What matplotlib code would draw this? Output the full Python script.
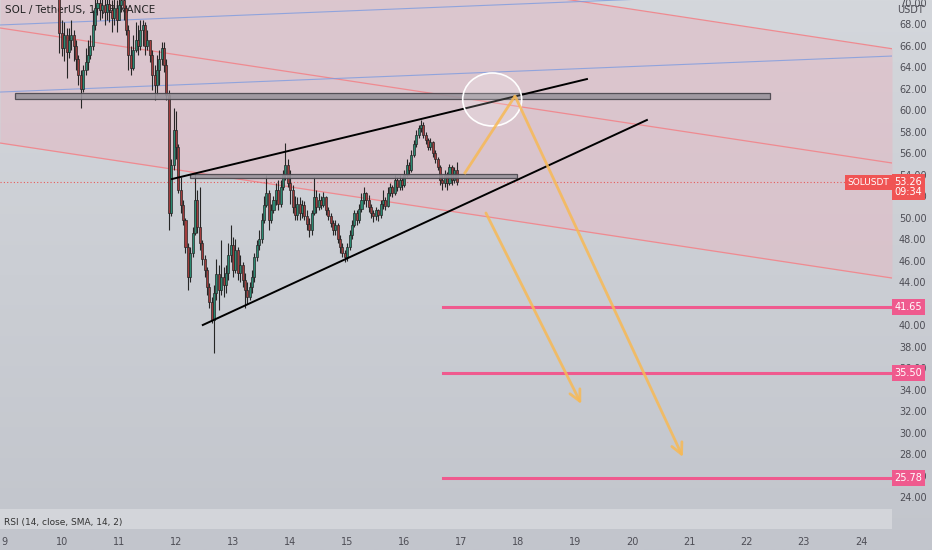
import numpy as np
import matplotlib.pyplot as plt
import matplotlib.transforms as mtransforms
from matplotlib.colors import LinearSegmentedColormap
from matplotlib.patches import Ellipse, Rectangle

# 1h candles, the first one opens on day 9 at 23:00
first_time = 9 + 23 / 24
first_open = 70.5
closes = [
    67.2, 65.8, 67.0, 65.4, 66.5, 67.0, 66.0, 64.7, 63.3, 62.0,
    63.7, 64.5, 65.1, 66.0, 67.9, 69.5, 70.0, 69.3, 69.8, 69.1,
    69.9, 69.3, 68.6, 69.5, 68.4, 69.8, 70.2, 69.5, 67.4, 65.1,
    63.9, 65.6, 66.5, 66.0, 67.4, 67.9, 66.0, 66.5, 65.1, 63.3,
    62.3, 63.7, 64.7, 65.8, 64.2, 61.4, 50.4, 54.9, 58.1, 56.6,
    52.6, 51.2, 49.8, 47.3, 44.5, 46.7, 48.6, 51.6, 49.1, 47.6,
    46.1, 45.1, 43.5, 42.1, 40.5, 43.0, 44.7, 43.3, 44.5, 43.7,
    44.8, 46.5, 47.4, 45.1, 47.0, 44.8, 45.6, 44.2, 43.3, 42.6,
    43.5, 44.5, 46.3, 47.4, 48.0, 49.8, 51.2, 52.3, 49.8, 50.7,
    51.6, 52.6, 51.3, 52.8, 54.0, 54.9, 53.2, 52.6, 51.0, 50.2,
    51.3, 50.4, 51.2, 50.1, 49.4, 48.8, 50.4, 51.9, 51.0, 51.6,
    51.2, 51.9, 50.7, 50.1, 49.5, 48.8, 49.3, 48.0, 47.3, 46.7,
    46.3, 47.3, 48.4, 49.3, 50.4, 49.8, 50.8, 51.6, 52.3, 51.6,
    51.0, 50.4, 50.1, 50.7, 50.2, 51.3, 51.6, 51.1, 52.3, 52.8,
    52.3, 53.5, 52.8, 53.5, 53.0, 54.0, 54.9, 54.4, 55.8, 56.8,
    57.7, 58.3, 58.6, 57.7, 57.2, 56.6, 57.0, 56.0, 55.4, 54.7,
    53.5, 53.2, 54.0, 53.2, 54.7, 53.5, 54.4, 53.26,
]
highs = [
    70.8, 68.4, 68.2, 67.6, 67.6, 68.4, 67.4, 66.5, 65.1, 63.7,
    64.2, 65.8, 66.5, 67.0, 69.3, 70.8, 71.0, 70.8, 71.0, 70.8,
    71.0, 70.7, 70.2, 70.7, 70.2, 70.9, 71.3, 71.1, 69.8, 67.9,
    66.0, 67.0, 68.2, 67.9, 68.4, 68.4, 68.2, 67.4, 66.5, 65.6,
    64.2, 65.1, 65.6, 66.3, 66.3, 64.7, 61.9, 55.4, 60.2, 59.9,
    56.8, 53.8, 51.6, 50.0, 47.6, 47.3, 49.1, 54.1, 52.6, 52.8,
    47.9, 46.5, 45.4, 43.9, 42.6, 43.7, 46.1, 45.6, 47.9, 45.4,
    45.6, 47.6, 49.3, 48.2, 48.0, 47.3, 46.5, 45.9, 44.8, 44.0,
    44.0, 45.1, 46.7, 47.9, 48.8, 50.4, 52.0, 54.0, 52.6, 51.3,
    52.0, 53.2, 53.5, 53.5, 54.4, 56.9, 55.4, 54.4, 53.0, 52.0,
    51.9, 51.9, 51.6, 51.5, 50.7, 50.0, 50.7, 53.8, 52.6, 52.3,
    52.0, 52.4, 52.0, 51.0, 50.4, 49.8, 49.8, 49.5, 48.4, 47.6,
    47.0, 47.6, 48.8, 49.8, 50.7, 50.7, 51.3, 52.3, 52.8, 52.4,
    52.1, 51.3, 50.7, 51.0, 50.8, 51.6, 52.6, 51.9, 52.8, 53.2,
    53.0, 54.0, 53.8, 54.0, 53.8, 54.4, 55.4, 55.2, 56.3, 57.2,
    58.1, 58.6, 59.1, 58.9, 58.0, 57.4, 57.4, 57.1, 56.3, 55.6,
    54.9, 54.0, 54.4, 54.2, 55.0, 54.9, 54.7, 55.2,
]
lows = [
    65.3, 65.0, 64.6, 63.0, 64.8, 65.6, 64.6, 63.7, 62.3, 60.2,
    61.7, 63.3, 63.7, 64.7, 65.6, 67.4, 68.8, 68.4, 68.6, 67.9,
    68.4, 68.2, 67.3, 67.9, 67.3, 68.4, 69.1, 68.4, 67.0, 63.7,
    63.3, 63.7, 65.4, 65.1, 65.6, 66.0, 65.1, 65.6, 64.5, 61.9,
    60.9, 61.4, 62.3, 64.2, 63.5, 60.9, 48.8, 50.1, 54.4, 55.4,
    52.3, 50.4, 49.3, 46.7, 43.3, 44.0, 46.3, 48.4, 48.6, 47.0,
    45.6, 44.5, 42.8, 41.6, 40.2, 37.4, 42.3, 41.4, 42.8, 42.6,
    43.0, 44.2, 45.9, 44.5, 44.8, 44.2, 44.0, 43.5, 41.6, 42.0,
    42.3, 43.0, 44.0, 46.0, 47.0, 47.6, 49.5, 51.0, 48.8, 49.5,
    50.4, 51.2, 50.7, 51.0, 52.6, 53.5, 52.8, 51.3, 50.4, 49.8,
    49.8, 49.8, 50.0, 49.8, 48.8, 48.2, 48.4, 50.2, 50.4, 50.7,
    50.8, 51.0, 50.2, 49.8, 49.1, 48.4, 48.4, 47.6, 46.7, 46.3,
    45.9, 46.0, 47.0, 48.0, 49.1, 49.3, 49.5, 50.5, 51.3, 51.0,
    50.5, 50.0, 49.6, 49.8, 49.7, 50.0, 50.8, 50.7, 51.0, 52.0,
    51.9, 52.1, 52.5, 52.6, 52.6, 52.8, 53.8, 54.0, 54.2, 55.6,
    56.6, 57.4, 58.0, 57.4, 56.8, 56.3, 56.3, 55.6, 55.1, 54.4,
    53.0, 52.6, 52.8, 52.6, 53.0, 53.0, 53.2, 53.0,
]

# drawings (day, price)
channel_days = [8.917, 24.544]
channel_top = [78.30, 65.70]
channel_mid = [67.63, 55.07]
channel_bot = [56.93, 44.37]
blue_line_1 = [67.91, 71.26]
blue_line_2 = [61.67, 65.02]
wedge_upper = ([11.93, 19.20], [53.58, 62.88])
wedge_lower = ([12.47, 20.25], [40.00, 59.07])
zone_upper = (9.18, 22.41, 61.02, 61.58)
zone_lower = (12.25, 17.97, 53.67, 54.05)
circle_center = (17.54, 60.98)
path_up = ([17.05, 17.94], [54.05, 61.30])
arrow_long = ((17.94, 61.30), (20.88, 27.72))
arrow_short = ((17.43, 50.42), (19.10, 32.65))
targets = [41.65, 35.50, 25.78]
target_start = 16.68
last_price = 53.26
price_ticks = list(range(24, 72, 2))
day_ticks = list(range(9, 25))

BG = '#c8cbd2'
GREEN = '#2b8a72'
RED = '#a23c3c'
PINK = '#ef5a8e'
ORANGE = '#f7b955'

fig = plt.figure(figsize=(9.32, 5.5), dpi=100)
fig.patch.set_facecolor(BG)

# soft vertical gradient behind everything
bg_ax = fig.add_axes([0, 0, 1, 1], zorder=-10)
bg_cmap = LinearSegmentedColormap.from_list('bg', ['#c2c5cc', '#d4d7dc'])
bg_ax.imshow(np.linspace(0, 1, 256).reshape(-1, 1), cmap=bg_cmap, aspect='auto',
             origin='lower', extent=[0, 1, 0, 1])
bg_ax.axis('off')

ax = fig.add_axes([0, 42 / 550, 892 / 932, 508 / 550])
ax.set_facecolor('none')
ax.set_xlim(8.917, 24.544)
ax.set_ylim(22.977, 70.233)
for s in ax.spines.values():
    s.set_visible(False)

# channel
ax.fill_between(channel_days, channel_top, channel_bot, color='#e2bcc6', alpha=0.6, lw=0, zorder=0)
for ys in (channel_top, channel_mid, channel_bot):
    ax.plot(channel_days, ys, color='#ef8a90', lw=0.9, zorder=1)
ax.plot(channel_days, blue_line_1, color='#7d9be0', lw=0.8, alpha=0.8, zorder=1)
ax.plot(channel_days, blue_line_2, color='#7d9be0', lw=0.8, alpha=0.8, zorder=1)

ax.text(0.006, 1 - 10.5 / 508, 'SOL / TetherUS, 1h, BINANCE', transform=ax.transAxes,
        fontsize=7.5, color='#222222', va='center', ha='left', zorder=2)

# candles
opens = [first_open] + closes[:-1]
times = [first_time + i / 24 for i in range(len(closes))]
w = 0.85 / 24
for t, o, h, l, c in zip(times, opens, highs, lows, closes):
    col = GREEN if c >= o else RED
    ax.vlines(t, l, h, color='#262626', lw=0.8, zorder=3)
    ax.bar(t, max(abs(c - o), 0.1), width=w, bottom=min(o, c), color=col,
           edgecolor='#262626', linewidth=0.5, zorder=4)

# last price line
ax.axhline(last_price, color='#e85a5a', lw=0.8, ls=(0, (1, 2)), zorder=2)

# zones
for x0, x1, y0, y1 in (zone_upper, zone_lower):
    ax.add_patch(Rectangle((x0, y0), x1 - x0, y1 - y0, facecolor='#9a959d',
                           edgecolor='#48454c', lw=0.9, alpha=0.9, zorder=5))

# wedge
ax.plot(*wedge_upper, color='black', lw=1.4, zorder=6)
ax.plot(*wedge_lower, color='black', lw=1.4, zorder=6)

ax.add_patch(Ellipse(circle_center, 1.034, 4.93, facecolor=(1, 1, 1, 0.18),
                     edgecolor='white', lw=1.2, zorder=7))

# projection arrows
ax.plot(*path_up, color=ORANGE, lw=2, alpha=0.85, zorder=7, solid_capstyle='butt')
for start, end in (arrow_long, arrow_short):
    ax.annotate('', xy=end, xytext=start,
                arrowprops=dict(arrowstyle='->', color=ORANGE, lw=2, alpha=0.85,
                                mutation_scale=20, shrinkA=0, shrinkB=0), zorder=7)

# targets
for p in targets:
    ax.plot([target_start, 24.544], [p, p], color=PINK, lw=2.2, zorder=6)

# price scale
ax.yaxis.tick_right()
ax.set_yticks(price_ticks)
ax.set_yticklabels([f'{v:.2f}' for v in price_ticks])
ax.tick_params(axis='y', length=0, pad=5, labelsize=7, labelcolor='#4d4d55')
ax.set_xticks([])

tr = mtransforms.blended_transform_factory(ax.transAxes, ax.transData)
ax.text(910 / 892, 69.3, 'USDT', transform=tr, fontsize=7, color='#4d4d55',
        ha='center', va='center', clip_on=False)
for p in targets:
    ax.text(908.5 / 892, p, f'{p:.2f}', transform=tr, fontsize=7, color='white',
            ha='center', va='center', clip_on=False, zorder=10,
            bbox=dict(boxstyle='square,pad=0.3', fc=PINK, ec='none'))
ax.text(889 / 892, last_price, 'SOLUSDT', transform=tr, fontsize=6.5, color='white',
        ha='right', va='center', clip_on=False, zorder=10,
        bbox=dict(boxstyle='square,pad=0.3', fc='#f05454', ec='none'))
ax.text(908.5 / 892, last_price - 0.45, '53.26\n09:34', transform=tr, fontsize=7,
        color='white', ha='center', va='center', clip_on=False, zorder=10,
        linespacing=1.0, bbox=dict(boxstyle='square,pad=0.3', fc='#f05454', ec='none'))

# RSI pane and date scale
rsi = fig.add_axes([0, 21 / 550, 892 / 932, 20 / 550])
rsi.set_facecolor('#d3d5da')
rsi.set_xlim(8.917, 24.544)
rsi.set_ylim(0, 1)
for s in rsi.spines.values():
    s.set_visible(False)
rsi.set_yticks([])
rsi.set_xticks(day_ticks)
rsi.set_xticklabels([str(d) for d in day_ticks])
rsi.tick_params(axis='x', length=0, pad=6, labelsize=7, labelcolor='#4d4d55')
rsi.text(0.005, 0.3, 'RSI (14, close, SMA, 14, 2)', transform=rsi.transAxes,
         fontsize=6.5, color='#333333', va='center')

fig.savefig('out.png', dpi=100, facecolor=BG)
